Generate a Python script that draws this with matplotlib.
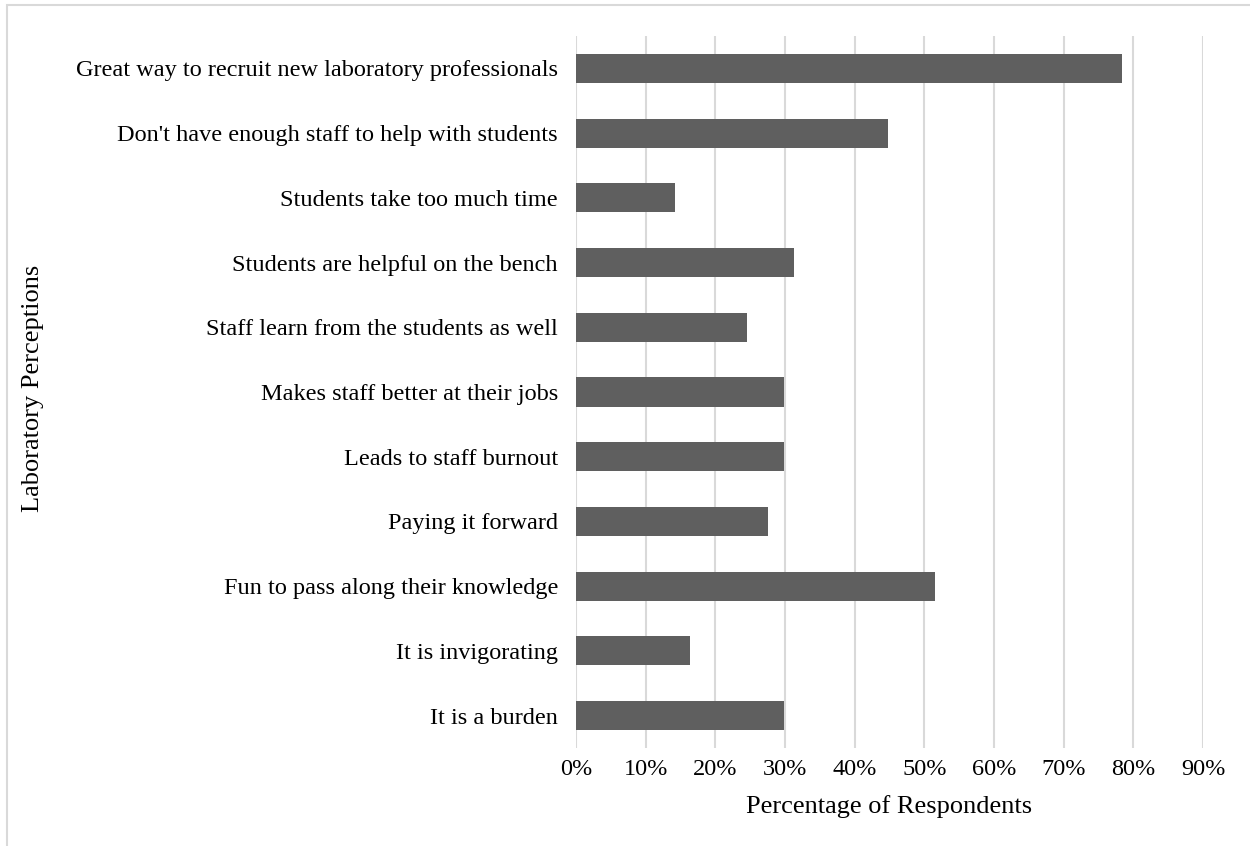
import matplotlib
matplotlib.use("Agg")
import matplotlib.pyplot as plt
from matplotlib.patches import Rectangle
from matplotlib.ticker import PercentFormatter

# survey responses, top to bottom as shown
perceptions = [
    "Great way to recruit new laboratory professionals",
    "Don't have enough staff to help with students",
    "Students take too much time",
    "Students are helpful on the bench",
    "Staff learn from the students as well",
    "Makes staff better at their jobs",
    "Leads to staff burnout",
    "Paying it forward",
    "Fun to pass along their knowledge",
    "It is invigorating",
    "It is a burden",
]
pct_respondents = [78.4, 44.8, 14.2, 31.3, 24.6, 29.9, 29.9, 27.6, 51.5, 16.4, 29.9]
x_ticks = [0, 10, 20, 30, 40, 50, 60, 70, 80, 90]

plt.rcParams["font.family"] = ["Liberation Serif", "DejaVu Serif"]

W, H = 1250, 846
fig = plt.figure(figsize=(W / 100, H / 100), dpi=100)
ax = fig.add_axes([576 / W, 1 - 748 / H, (1203 - 576) / W, (748 - 36) / H])

ypos = list(range(len(perceptions)))[::-1]
ax.barh(ypos, pct_respondents, height=0.45, color="#5f5f5f", zorder=3)

ax.set_xlim(0, 90)
ax.set_ylim(-0.5, len(perceptions) - 0.5)
ax.set_xticks(x_ticks)
ax.xaxis.set_major_formatter(PercentFormatter(decimals=0))
ax.set_yticks(ypos)
ax.set_yticklabels(perceptions)
ax.grid(axis="x", color="#d9d9d9", linewidth=1.5, zorder=0)
for s in ax.spines.values():
    s.set_visible(False)
ax.tick_params(axis="both", length=0, labelsize=17.5, colors="black")
ax.tick_params(axis="y", pad=13)
ax.tick_params(axis="x", pad=8)

ax.set_xlabel("Percentage of Respondents", fontsize=19, labelpad=11)
fig.text(33 / W, 1 - 388 / H, "Laboratory Perceptions", rotation=90,
         ha="center", va="center", fontsize=19)

# thin frame around the whole chart area
fig.patches.append(Rectangle((7 / W, -0.1), 1.2, 1 - 5 / H + 0.1,
                             transform=fig.transFigure, fill=False,
                             edgecolor="#d9d9d9", linewidth=1.5))

fig.savefig("out.png", dpi=100)
